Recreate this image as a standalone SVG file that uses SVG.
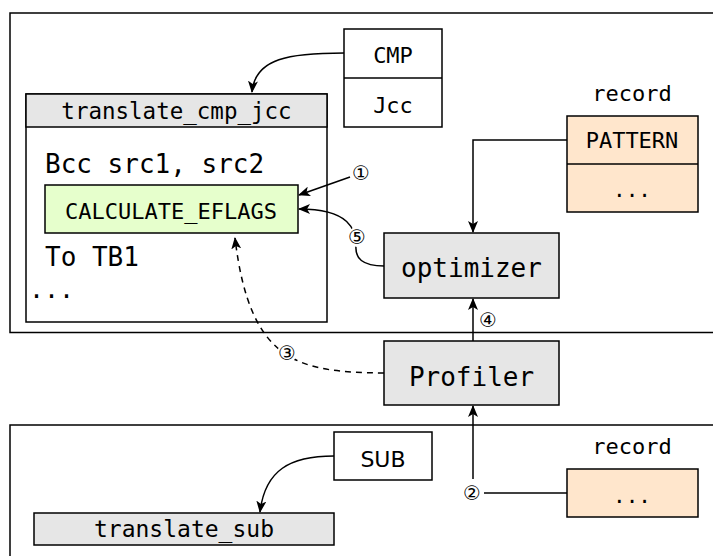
<svg xmlns="http://www.w3.org/2000/svg" width="713" height="556" viewBox="0 0 713 556">
  <style>
    .box { stroke: #000; stroke-width: 1.5; }
    .white { fill: #fff; }
    .gray { fill: #e6e6e6; }
    .green { fill: #e6ffcc; }
    .peach { fill: #ffe6cc; }
    .region { fill: none; stroke: #000; stroke-width: 1.5; }
    .mono { font-family: "DejaVu Sans Mono", "Liberation Mono", monospace; fill: #000; }
    .sans { font-family: "DejaVu Sans", "Liberation Sans", sans-serif; fill: #000; }
    .mid { text-anchor: middle; }
    .num { font-family: "DejaVu Sans", sans-serif; font-size: 20px; text-anchor: middle; fill: #000; }
    .edge { fill: none; stroke: #000; stroke-width: 1.5; }
    .dash { stroke-dasharray: 6 5; }
  </style>
  <defs>
    <marker id="arrow" viewBox="0 0 12 10" refX="11" refY="5" markerWidth="12" markerHeight="10" markerUnits="userSpaceOnUse" orient="auto">
      <path d="M0,0 L12,5 L0,10 L3,5 z" fill="#000"/>
    </marker>
  </defs>

  <rect width="713" height="556" fill="#fff"/>

  <!-- execution regions -->
  <g id="region-top">
    <rect class="region" x="10" y="13" width="720" height="319.5"/>
  </g>
  <g id="region-bottom">
    <rect class="region" x="10" y="425" width="720" height="150"/>
  </g>

  <!-- CMP / Jcc instruction pair -->
  <g id="cmp-jcc">
    <rect class="box white" x="344" y="29" width="98" height="98"/>
    <line x1="344" y1="78" x2="442" y2="78" stroke="#000" stroke-width="1.5"/>
    <text class="mono mid" x="393" y="63" font-size="22">CMP</text>
    <text class="mono mid" x="393" y="113" font-size="22">Jcc</text>
  </g>

  <!-- translate_cmp_jcc block -->
  <g id="translate-cmp-jcc">
    <rect class="box white" x="26" y="94" width="301" height="228"/>
    <rect class="box gray" x="26" y="94" width="301" height="33"/>
    <text class="mono mid" x="176.5" y="119" font-size="22.5">translate_cmp_jcc</text>
    <text class="mono" x="45" y="173" font-size="26">Bcc src1, src2</text>
    <text class="mono" x="45" y="266" font-size="26">To TB1</text>
    <text class="mono" x="29" y="298" font-size="25">...</text>
  </g>

  <g id="calculate-eflags">
    <rect class="box green" x="45" y="185" width="253" height="48"/>
    <text class="mono mid" x="171" y="219" font-size="22">CALCULATE_EFLAGS</text>
  </g>

  <!-- pattern record -->
  <g id="record-pattern">
    <text class="mono mid" x="632" y="101" font-size="22">record</text>
    <rect class="box peach" x="567" y="116" width="131" height="96"/>
    <line x1="567" y1="164" x2="698" y2="164" stroke="#000" stroke-width="1.5"/>
    <text class="mono mid" x="632" y="148" font-size="22">PATTERN</text>
    <text class="mono mid" x="632" y="197" font-size="21">...</text>
  </g>

  <g id="optimizer">
    <rect class="box gray" x="384" y="233" width="175" height="65"/>
    <text class="mono mid" x="471.5" y="277" font-size="26">optimizer</text>
  </g>

  <g id="profiler">
    <rect class="box gray" x="384" y="341" width="175" height="64"/>
    <text class="mono mid" x="471.5" y="386" font-size="26">Profiler</text>
  </g>

  <g id="sub">
    <rect class="box white" x="334" y="432" width="98" height="48"/>
    <text class="sans mid" x="383" y="467" font-size="22">SUB</text>
  </g>

  <g id="translate-sub">
    <rect class="box gray" x="34" y="513" width="300" height="32"/>
    <text class="mono mid" x="184" y="537" font-size="23">translate_sub</text>
  </g>

  <g id="record-bottom">
    <text class="mono mid" x="632" y="454" font-size="22">record</text>
    <rect class="box peach" x="567" y="469" width="131" height="48"/>
    <text class="mono mid" x="632" y="503" font-size="21">...</text>
  </g>

  <!-- connectors -->
  <g id="connectors">
    <path class="edge" d="M344,53 C290,53 255,58 252,92" marker-end="url(#arrow)"/>
    <path class="edge" d="M567,140 L473,140 L473,232" marker-end="url(#arrow)"/>
    <path class="edge" d="M350,177 L299,195" marker-end="url(#arrow)"/>
    <path class="edge" d="M384,266 C362,266 355,258 356,246 C356,230 350,209 299,209" marker-end="url(#arrow)"/>
    <path class="edge dash" d="M384,373 C300,372 250,365 235,238" marker-end="url(#arrow)"/>
    <path class="edge" d="M473,341 L473,299" marker-end="url(#arrow)"/>
    <path class="edge" d="M473,479 L473,406" marker-end="url(#arrow)"/>
    <path class="edge" d="M567,493 L484,493"/>
    <path class="edge" d="M334,456 C290,456 265,470 260,512" marker-end="url(#arrow)"/>

    <!-- step numbers -->
    <text class="num" x="361" y="180">①</text>
    <circle cx="357" cy="237" r="10" fill="#fff"/>
    <text class="num" x="357" y="244">⑤</text>
    <circle cx="287" cy="353" r="10" fill="#fff"/>
    <text class="num" x="287" y="360">③</text>
    <text class="num" x="488" y="327">④</text>
    <text class="num" x="472" y="500">②</text>
  </g>
</svg>
